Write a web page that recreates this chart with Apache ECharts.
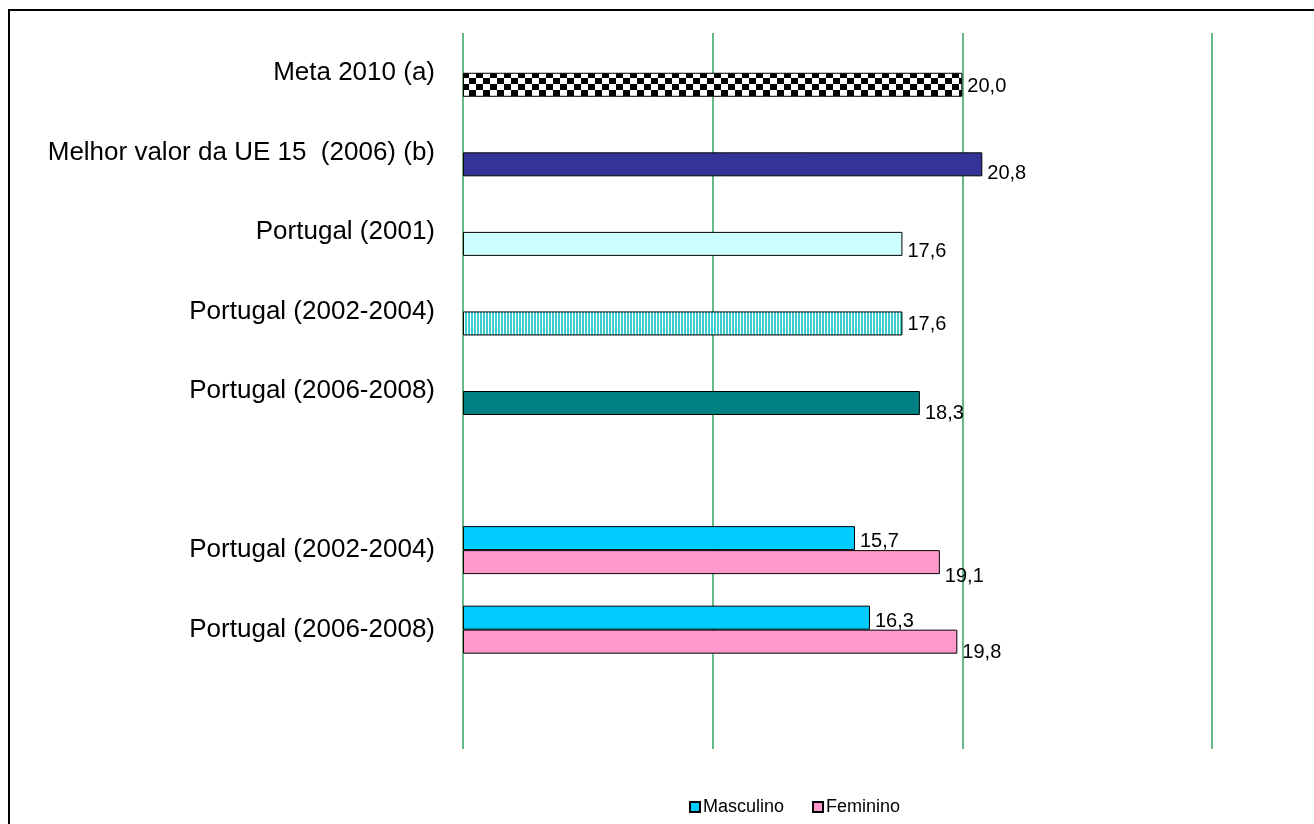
<!DOCTYPE html>
<html>
<head>
<meta charset="utf-8">
<title>Meta 2010 — Portugal</title>
<script src="https://cdn.jsdelivr.net/npm/echarts@6/dist/echarts.min.js"></script>
<style>
  html, body { margin: 0; padding: 0; background: #fff; }
  #chart { width: 1314px; height: 824px; }
</style>
</head>
<body>
<div id="chart"></div>
<script>
// Row labels, top to bottom (blank rows separate the blocks)
const categories = [
  'Meta 2010 (a)',
  'Melhor valor da UE 15  (2006) (b)',
  'Portugal (2001)',
  'Portugal (2002-2004)',
  'Portugal (2006-2008)',
  '',
  'Portugal (2002-2004)',
  'Portugal (2006-2008)',
  ''
];

// Single-bar rows (total population)
const totalValues = [20.0, 20.8, 17.6, 17.6, 18.3];
// Sex breakdown, for the two lower rows
const masculino = [15.7, 16.3];
const feminino = [19.1, 19.8];

const xTicks = [0, 10, 20, 30];

const FONT = "'Liberation Sans', Arial, sans-serif";

// Fill patterns
function checker(cw, ch) {
  const c = document.createElement('canvas');
  c.width = cw * 2; c.height = ch * 2;
  const g = c.getContext('2d');
  g.fillStyle = '#ffffff'; g.fillRect(0, 0, c.width, c.height);
  g.fillStyle = '#000000';
  g.fillRect(0, 0, cw, ch);
  g.fillRect(cw, ch, cw, ch);
  return { image: c, repeat: 'repeat' };
}
function vstripes() {
  const c = document.createElement('canvas');
  c.width = 3; c.height = 4;
  const g = c.getContext('2d');
  g.fillStyle = '#ffffff'; g.fillRect(0, 0, 3, 4);
  g.fillStyle = '#40cccc'; g.fillRect(0, 0, 2, 4);
  return { image: c, repeat: 'repeat' };
}

const totalFills = [checker(7, 6), '#333399', '#ccffff', vstripes(), '#008080'];
// small vertical nudges of the value labels per row
const totalLabelDy = [2, 9, 8, 1, 10];
const maleLabelDy = [3, 4];
const femaleLabelDy = [14, 11];

const fmt = v => v.toFixed(1).replace('.', ',');

const nRows = categories.length;
const firstSplit = totalValues.length + 1;

const maleData = [];
const femaleData = [];
for (let i = 0; i < nRows; i++) {
  maleData.push(null);
  femaleData.push(null);
}
totalValues.forEach((v, i) => {
  femaleData[i] = {
    value: v,
    itemStyle: { color: totalFills[i] },
    label: { offset: [0, totalLabelDy[i]] }
  };
});
masculino.forEach((v, i) => {
  maleData[firstSplit + i] = { value: v, label: { offset: [0, maleLabelDy[i]] } };
});
feminino.forEach((v, i) => {
  femaleData[firstSplit + i] = { value: v, label: { offset: [0, femaleLabelDy[i]] } };
});

const valueLabel = {
  show: true,
  position: 'right',
  distance: 5,
  color: '#000',
  fontFamily: FONT,
  fontSize: 20,
  formatter: p => fmt(p.value)
};

const chart = echarts.init(document.getElementById('chart'), null, { renderer: 'canvas' });
chart.setOption({
  backgroundColor: '#ffffff',
  animation: false,
  graphic: [{
    type: 'rect',
    shape: { x: 9, y: 10, width: 1400, height: 900 },
    style: { fill: 'none', stroke: '#000', lineWidth: 2 },
    silent: true
  }],
  legend: {
    data: ['Masculino', 'Feminino'],
    left: 684,
    top: 793,
    itemWidth: 10,
    itemHeight: 10,
    itemGap: 28,
    icon: 'rect',
    textStyle: { fontFamily: FONT, fontSize: 18, color: '#000', padding: [0, 0, 0, -2] }
  },
  grid: { left: 463, top: 33, width: 749, height: 716, containLabel: false },
  xAxis: {
    type: 'value',
    min: xTicks[0],
    max: xTicks[xTicks.length - 1],
    interval: xTicks[1] - xTicks[0],
    axisLine: { show: false },
    axisTick: { show: false },
    axisLabel: { show: false },
    splitLine: { show: true, lineStyle: { color: '#66bb88', width: 2 } }
  },
  yAxis: {
    type: 'category',
    inverse: true,
    data: categories,
    axisLine: { show: false },
    axisTick: { show: false },
    axisLabel: {
      margin: 28,
      color: '#000',
      fontFamily: FONT,
      fontSize: 26,
      interval: 0
    }
  },
  series: [
    {
      name: 'Masculino',
      type: 'bar',
      data: maleData,
      barWidth: 24,
      barGap: '0%',
      itemStyle: { color: '#00ccff', borderColor: '#000', borderWidth: 1 },
      label: valueLabel
    },
    {
      name: 'Feminino',
      type: 'bar',
      data: femaleData,
      barWidth: 24,
      barGap: '0%',
      itemStyle: { color: '#ff99cc', borderColor: '#000', borderWidth: 1 },
      label: valueLabel
    }
  ]
});
</script>
</body>
</html>
